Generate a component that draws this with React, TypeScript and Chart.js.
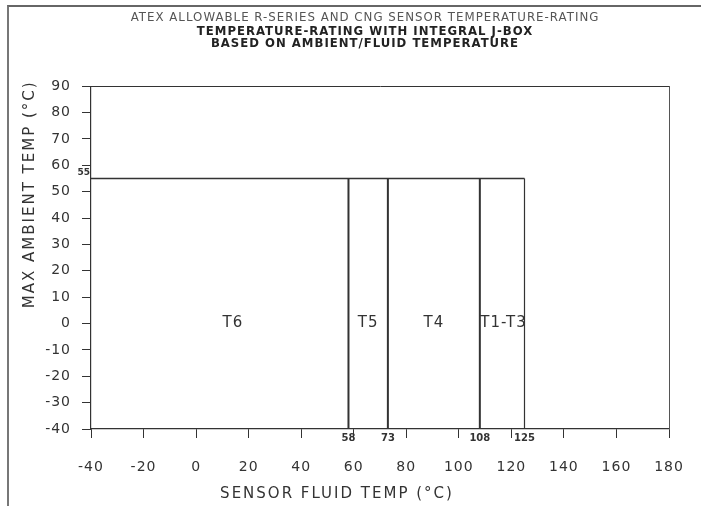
import React, { useEffect, useRef } from "react";
import { Chart, registerables } from "chart.js";

Chart.register(...registerables);

// ---- text ----
const titleLine = "ATEX ALLOWABLE R-SERIES AND CNG SENSOR TEMPERATURE-RATING";
const subtitleLines = [
  "TEMPERATURE-RATING WITH INTEGRAL J-BOX",
  "BASED ON AMBIENT/FLUID TEMPERATURE",
];
const xAxisTitle = "SENSOR FLUID TEMP (°C)";
const yAxisTitle = "MAX AMBIENT TEMP (°C)";

// ---- axes ----
const xMin = -40;
const xMax = 180;
const xStep = 20;
const yMin = -40;
const yMax = 90;
const yStep = 10;

// ---- data ----
const maxAmbient = 55;
const zoneBoundaries = [58, 73, 108, 125];
const zoneNames = ["T6", "T5", "T4", "T1-T3"];
const zoneLabelX = [14, 65.5, 90.5, 117];
const zoneLabelY = [0, 0, 0, 0];

const INK = "#333";
const FONT = "DejaVu Sans";

const annotatePlugin = {
  id: "annotate",
  beforeDraw(chart: any) {
    chart.ctx.letterSpacing = "1px";
  },
  afterDraw(chart: any) {
    const { ctx, chartArea } = chart;
    const xs = chart.scales.x;
    const ys = chart.scales.y;
    ctx.save();
    ctx.fillStyle = INK;

    // zone names
    ctx.font = `15px "${FONT}"`;
    ctx.letterSpacing = "1px";
    ctx.textAlign = "center";
    ctx.textBaseline = "middle";
    zoneNames.forEach((n, i) => {
      ctx.fillText(n, xs.getPixelForValue(zoneLabelX[i]), ys.getPixelForValue(zoneLabelY[i]));
    });

    // boundary labels under the axis
    ctx.font = `bold 10px "${FONT}"`;
    ctx.letterSpacing = "0px";
    ctx.textBaseline = "top";
    zoneBoundaries.forEach((b) => {
      ctx.fillText(String(b), xs.getPixelForValue(b), chartArea.bottom + 4);
    });

    // max ambient label
    ctx.font = `bold 9px "${FONT}"`;
    ctx.textAlign = "right";
    ctx.textBaseline = "bottom";
    ctx.fillText(String(maxAmbient), chartArea.left - 1, ys.getPixelForValue(maxAmbient) - 1);

    // axis titles
    ctx.font = `15px "${FONT}"`;
    ctx.letterSpacing = "2px";
    ctx.textAlign = "center";
    ctx.textBaseline = "middle";
    ctx.fillText(xAxisTitle, chartArea.left + 246, chartArea.bottom + 65);

    ctx.translate(chartArea.left - 61, chartArea.top + 108);
    ctx.rotate(-Math.PI / 2);
    ctx.fillText(yAxisTitle, 0, 0);
    ctx.restore();
    ctx.letterSpacing = "0px";
  },
};

export default function App() {
  const ref = useRef<HTMLCanvasElement | null>(null);

  useEffect(() => {
    if (!ref.current) return;
    const lineSets: any[] = [];
    lineSets.push({
      data: [
        { x: xMin, y: maxAmbient },
        { x: zoneBoundaries[zoneBoundaries.length - 1], y: maxAmbient },
      ],
      borderWidth: 1.5,
    });
    zoneBoundaries.forEach((b, i) => {
      lineSets.push({
        data: [
          { x: b, y: yMin },
          { x: b, y: maxAmbient },
        ],
        borderWidth: i === zoneBoundaries.length - 1 ? 1.2 : 2,
      });
    });

    const chart = new Chart(ref.current, {
      type: "scatter",
      data: {
        datasets: lineSets.map((d) => ({
          ...d,
          showLine: true,
          borderColor: INK,
          pointRadius: 0,
          fill: false,
        })),
      },
      options: {
        animation: false,
        responsive: false,
        layout: { padding: { left: 29, right: 0, top: 0, bottom: 0 } },
        plugins: {
          legend: { display: false },
          tooltip: { enabled: false },
          title: {
            display: true,
            text: titleLine,
            color: "#555",
            font: { family: FONT, size: 11.8, weight: "normal", lineHeight: 1.2 },
            padding: { top: 11, bottom: 0 },
          },
          subtitle: {
            display: true,
            text: subtitleLines,
            color: "#222",
            font: { family: FONT, size: 11.7, weight: "bold", lineHeight: 1.03 },
            padding: { top: 1, bottom: 0 },
          },
        },
        scales: {
          x: {
            type: "linear",
            position: "bottom",
            min: xMin,
            max: xMax,
            ticks: {
              stepSize: xStep,
              color: INK,
              font: { family: FONT, size: 14, lineHeight: 1.63 },
              padding: 18,
              maxRotation: 0,
            },
            grid: { drawOnChartArea: false, drawTicks: true, tickLength: 9, color: INK, lineWidth: 1 },
            border: { display: true, color: INK, width: 1.2 },
            afterFit: (s: any) => {
              s.height = 77;
            },
          },
          x2: {
            type: "linear",
            position: "top",
            min: xMin,
            max: xMax,
            ticks: { display: false },
            grid: { display: false },
            border: { display: true, color: INK, width: 1 },
            afterFit: (s: any) => {
              s.height = 36;
            },
          },
          y: {
            type: "linear",
            position: "left",
            min: yMin,
            max: yMax,
            ticks: {
              stepSize: yStep,
              color: INK,
              font: { family: FONT, size: 14 },
              padding: 11,
            },
            grid: { drawOnChartArea: false, drawTicks: true, tickLength: 9, color: INK, lineWidth: 1 },
            border: { display: true, color: INK, width: 1.2 },
            afterFit: (s: any) => {
              s.width = 62;
            },
          },
          y2: {
            type: "linear",
            position: "right",
            min: yMin,
            max: yMax,
            ticks: { display: false },
            grid: { display: false },
            border: { display: true, color: "#555", width: 1 },
            afterFit: (s: any) => {
              s.width = 32;
            },
          },
        },
      },
      plugins: [annotatePlugin],
    });
    return () => chart.destroy();
  }, []);

  return (
    <div style={{ position: "fixed", left: 0, top: 0, width: 701, height: 506, background: "#fff" }}>
      <div
        style={{
          position: "absolute",
          left: 7,
          top: 5,
          right: 0,
          bottom: 0,
          borderTop: "2px solid #666",
          borderLeft: "2px solid #777",
        }}
      />
      <canvas ref={ref} width={701} height={506} style={{ position: "absolute", left: 0, top: 0 }} />
    </div>
  );
}
